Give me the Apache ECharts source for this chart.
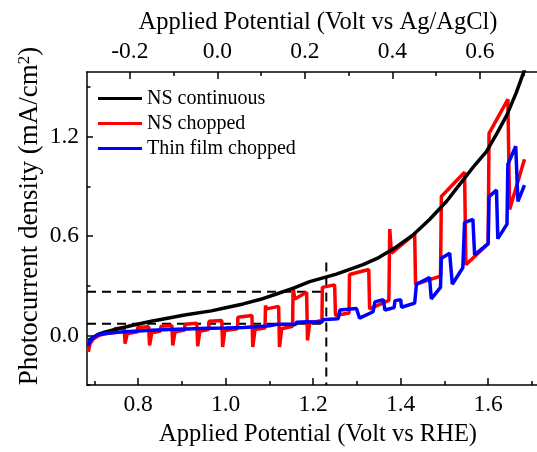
<!DOCTYPE html>
<html>
<head>
<meta charset="utf-8">
<script src="https://cdn.jsdelivr.net/npm/echarts@6.0.0/dist/echarts.min.js"></script>
<style>
  html, body { margin: 0; padding: 0; background: #fff; }
  #chart { width: 537px; height: 452px; }
</style>
</head>
<body>
<div id="chart"></div>
<script>
// potential vs RHE (V), current density (mA/cm2)
const nsContinuous = [
  [0.686, -0.03], [0.693, -0.02], [0.708, 0.006], [0.723, 0.02], [0.754, 0.04], [0.79, 0.063],
  [0.83, 0.085], [0.87, 0.105], [0.906, 0.123], [0.967, 0.148], [1.00, 0.167], [1.04, 0.19],
  [1.08, 0.218], [1.116, 0.25], [1.155, 0.285], [1.192, 0.325], [1.253, 0.37], [1.314, 0.427],
  [1.35, 0.47], [1.39, 0.534], [1.43, 0.61], [1.466, 0.70], [1.505, 0.81], [1.542, 0.936],
  [1.57, 1.03], [1.596, 1.11], [1.62, 1.22], [1.642, 1.327], [1.664, 1.464], [1.68, 1.58], [1.695, 1.70]
];

const nsChopped = [
  [0.686, -0.10], [0.690, -0.05], [0.698, -0.02], [0.710, 0.0], [0.725, 0.01], [0.745, 0.018],
  [0.746, 0.04], [0.768, 0.045], [0.770, -0.05], [0.775, 0.01], [0.798, 0.022],
  [0.799, 0.048], [0.824, 0.052], [0.826, -0.06], [0.831, 0.015], [0.851, 0.027],
  [0.852, 0.055], [0.877, 0.06], [0.879, -0.06], [0.884, 0.02], [0.906, 0.032],
  [0.907, 0.068], [0.934, 0.073], [0.936, -0.065], [0.941, 0.025], [0.961, 0.036],
  [0.962, 0.085], [0.991, 0.09], [0.993, -0.07], [0.998, 0.03], [1.027, 0.04],
  [1.028, 0.11], [1.060, 0.12], [1.062, -0.07], [1.067, 0.035], [1.090, 0.045],
  [1.091, 0.18], [1.094, 0.16], [1.121, 0.175], [1.123, -0.07], [1.128, 0.04], [1.153, 0.055],
  [1.154, 0.29], [1.158, 0.22], [1.185, 0.26], [1.187, -0.03], [1.192, 0.075], [1.220, 0.09],
  [1.221, 0.29], [1.249, 0.305], [1.251, 0.12], [1.282, 0.135],
  [1.283, 0.368], [1.327, 0.398], [1.329, 0.16], [1.373, 0.211],
  [1.375, 0.642], [1.379, 0.496], [1.432, 0.613], [1.434, 0.309], [1.491, 0.358],
  [1.493, 0.838], [1.546, 0.985], [1.549, 0.427], [1.600, 0.554],
  [1.602, 1.22], [1.645, 1.425], [1.649, 0.76], [1.683, 1.063]
];

const thinFilmChopped = [
  [0.686, -0.065], [0.690, -0.035], [0.697, -0.012], [0.705, 0.0], [0.72, 0.01], [0.74, 0.016],
  [0.77, 0.022], [0.80, 0.027], [0.83, 0.031], [0.87, 0.035], [0.91, 0.039], [0.96, 0.043],
  [1.00, 0.045], [1.04, 0.048], [1.08, 0.054], [1.10, 0.058], [1.102, 0.07], [1.12, 0.068],
  [1.122, 0.058], [1.16, 0.066], [1.162, 0.08], [1.185, 0.082], [1.187, 0.07], [1.22, 0.08],
  [1.222, 0.095], [1.238, 0.098], [1.240, 0.088], [1.257, 0.1], [1.261, 0.153], [1.299, 0.163],
  [1.306, 0.104], [1.337, 0.143], [1.341, 0.202], [1.360, 0.216], [1.364, 0.153], [1.385, 0.168],
  [1.387, 0.21], [1.400, 0.215], [1.402, 0.17], [1.432, 0.195], [1.436, 0.309], [1.466, 0.349],
  [1.470, 0.221], [1.491, 0.29], [1.493, 0.466], [1.512, 0.496], [1.518, 0.309], [1.542, 0.408],
  [1.546, 0.681], [1.565, 0.701], [1.569, 0.486], [1.600, 0.554], [1.602, 0.838], [1.619, 0.877],
  [1.622, 0.584], [1.643, 0.672], [1.645, 1.033], [1.663, 1.142], [1.668, 0.809], [1.683, 0.907]
];

// dashed guides: 1.23 V RHE and the two read-off current levels
const guideV = 1.23;
const guideJ = [0.264, 0.07];
const guideTopJ = 0.44;

const xMajor = [0.8, 1.0, 1.2, 1.4, 1.6];
const xMinor = [0.7, 0.9, 1.1, 1.3, 1.5, 1.7];
const topMajor = [-0.2, 0.0, 0.2, 0.4, 0.6];
const topMinor = [-0.1, 0.1, 0.3, 0.5, 0.7];
const yMajor = [0.0, 0.6, 1.2];
const yMinor = [-0.3, 0.3, 0.9, 1.5];

const FONT = 'Liberation Serif';
const X_MIN = 0.683, X_MAX = 1.7116;
const SHIFT = 0.981; // RHE - Ag/AgCl
const Y_MIN = -0.3, Y_MAX = 1.59;

const chart = echarts.init(document.getElementById('chart'));

const fmt = v => Number(v).toFixed(1);
const tickStyle = { color: '#000', width: 1.5 };

function axisMain(extra, major, len) {
  return Object.assign({
    type: 'value',
    axisLine: { show: true, onZero: false, lineStyle: { color: '#000', width: 1.5 } },
    axisTick: { show: true, inside: true, length: len, customValues: major, lineStyle: tickStyle },
    axisLabel: { show: true, customValues: major, formatter: fmt, color: '#000', fontFamily: FONT, fontSize: 23.5 },
    splitLine: { show: false }
  }, extra);
}

function axisMinor(extra, minor, len) {
  return Object.assign({
    type: 'value',
    axisLine: { show: false, onZero: false },
    axisTick: { show: true, inside: true, length: len, customValues: minor, lineStyle: tickStyle },
    axisLabel: { show: false },
    splitLine: { show: false }
  }, extra);
}

// names sit a little right of the (cropped) plot centre
const nameStyle = { color: '#000', fontFamily: FONT, fontSize: 24.5, padding: [0, 0, 0, 12] };

function dashed(data) {
  return {
    type: 'line', data: data, symbol: 'none', silent: true, z: 1,
    lineStyle: { color: '#000', width: 2, type: [9, 6] }
  };
}

function curve(name, data, color, width, z) {
  return {
    name: name, type: 'line', data: data, symbol: 'none', showSymbol: false, z: z,
    color: color, lineStyle: { color: color, width: width }, clip: true
  };
}

const option = {
  animation: false,
  backgroundColor: '#fff',
  grid: { left: 87, right: 0, top: 72, bottom: 59, containLabel: false },
  legend: {
    data: ['NS continuous', 'NS chopped', 'Thin film chopped'],
    orient: 'vertical', left: 98, top: 86, padding: 0, itemGap: 0,
    itemWidth: 44, itemHeight: 3, icon: 'rect',
    textStyle: { color: '#000', fontFamily: FONT, fontSize: 20, lineHeight: 25 }
  },
  xAxis: [
    axisMain({
      position: 'bottom', min: X_MIN, max: X_MAX,
      name: 'Applied Potential (Volt vs RHE)', nameLocation: 'middle', nameGap: 34, nameTextStyle: nameStyle
    }, xMajor, 7),
    axisMinor({ position: 'bottom', min: X_MIN, max: X_MAX }, xMinor, 4),
    axisMain({
      position: 'top', min: X_MIN - SHIFT, max: X_MAX - SHIFT,
      name: 'Applied Potential (Volt vs Ag/AgCl)', nameLocation: 'middle', nameGap: 35, nameTextStyle: nameStyle
    }, topMajor, 7),
    axisMinor({ position: 'top', min: X_MIN - SHIFT, max: X_MAX - SHIFT }, topMinor, 4)
  ],
  yAxis: [
    axisMain({ position: 'left', min: Y_MIN, max: Y_MAX }, yMajor, 6),
    axisMinor({ position: 'left', min: Y_MIN, max: Y_MAX }, yMinor, 3.5)
  ],
  graphic: [{
    type: 'text', x: 30, y: 216, rotation: Math.PI / 2,
    style: {
      text: 'Photocurrent density (mA/cm{sup|2})',
      fill: '#000', fontFamily: FONT, fontSize: 27,
      align: 'center', verticalAlign: 'middle',
      rich: { sup: { fontFamily: FONT, fontSize: 17, verticalAlign: 'top', fill: '#000' } }
    }
  }],
  series: [
    dashed([[X_MIN, guideJ[0]], [guideV, guideJ[0]]]),
    dashed([[X_MIN, guideJ[1]], [guideV, guideJ[1]]]),
    dashed([[guideV, guideTopJ], [guideV, Y_MIN]]),
    curve('NS chopped', nsChopped, '#ff0000', 3.5, 3),
    curve('NS continuous', nsContinuous, '#000000', 3.5, 4),
    curve('Thin film chopped', thinFilmChopped, '#0000ff', 3.5, 5)
  ]
};

chart.setOption(option);
</script>
</body>
</html>
